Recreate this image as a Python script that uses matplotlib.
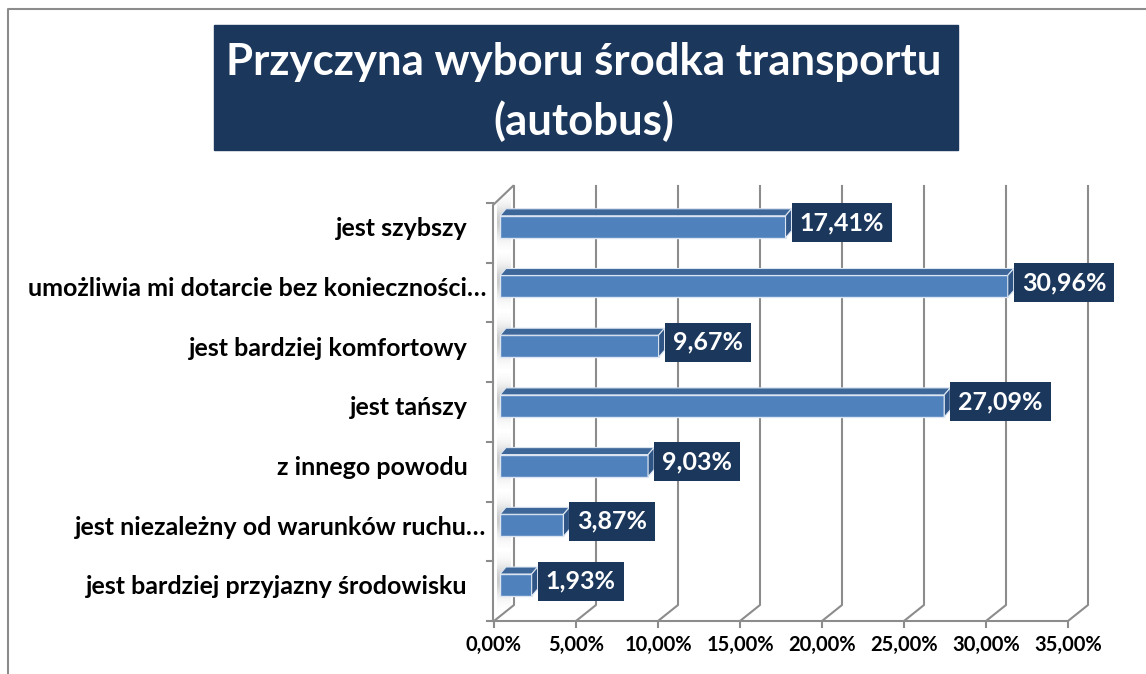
import numpy as np
import matplotlib.pyplot as plt
from matplotlib.patches import Polygon, Rectangle
from matplotlib.transforms import ScaledTranslation

plt.rcParams['font.family'] = ['Lato', 'DejaVu Sans']
plt.rcParams['font.weight'] = 'bold'

# Data (top to bottom)
categories = ['jest szybszy', 'umożliwia mi dotarcie bez konieczności…',
              'jest bardziej komfortowy', 'jest tańszy', 'z innego powodu',
              'jest niezależny od warunków ruchu…',
              'jest bardziej przyjazny środowisku']
values = [17.41, 30.96, 9.67, 27.09, 9.03, 3.87, 1.93]
value_labels = ['17,41%', '30,96%', '9,67%', '27,09%', '9,03%', '3,87%', '1,93%']
tick_values = [0, 5, 10, 15, 20, 25, 30, 35]
tick_labels = ['0,00%', '5,00%', '10,00%', '15,00%', '20,00%', '25,00%', '30,00%', '35,00%']
title = 'Przyczyna wyboru środka transportu\n(autobus)'

NAVY = '#1b375c'
BAR = '#4f81bd'
GRID = '#8c8c8c'

W, H = 1146, 674
fig = plt.figure(figsize=(W / 100, H / 100), dpi=100)

# pixel scale of the plot (bar front plane)
PXX = 16.4   # px per percent
PXY = 59.7   # px per category row
X0, Y0 = 500, 585


def dx(p):
    return p / PXX


def dy(p):
    return p / PXY


# background axes in pixel coords for frame and title
bg = fig.add_axes([0, 0, 1, 1])
bg.set_xlim(0, W)
bg.set_ylim(H, 0)
bg.axis('off')
bg.plot([8, 8, W + 5], [H + 5, 9, 9], color=GRID, lw=1.5, solid_capstyle='butt')
bg.add_patch(Rectangle((214, 25), 744, 125, color=NAVY))
bg.text(584, 92, title, color='white', fontsize=31.5, ha='center', va='center',
        linespacing=1.52)

# main axes
L, R, T, B = 494, 1100, 175, 621
ax = fig.add_axes([L / W, 1 - B / H, (R - L) / W, (B - T) / H])
ax.set_xlim((L - X0) / PXX, (R - X0) / PXX)
ax.set_ylim((Y0 - B) / PXY, (Y0 - T) / PXY)
ax.patch.set_visible(False)
for s in ax.spines.values():
    s.set_visible(False)

rows = np.arange(len(categories))[::-1]
y_front = (Y0 - 621) / PXY
y_back = y_front + dy(16)
y_top = (Y0 - 186) / PXY

# 3D gridlines: back wall + floor diagonal + tick
for t in tick_values:
    ax.plot([t + dx(-6), t + dx(-6), t + dx(14), t + dx(14)],
            [y_front - dy(6), y_front, y_back, y_top],
            color=GRID, lw=1.5, zorder=1, clip_on=False)
ax.plot([dx(-6), tick_values[-1] + dx(-6)], [y_front, y_front],
        color=GRID, lw=1.5, zorder=1, clip_on=False)

# left wall
ax.plot([dx(-7), dx(-7), dx(13)], [y_front, y_front + 7 - dy(2), y_top],
        color=GRID, lw=1.5, zorder=1, clip_on=False)
for k in range(len(categories) + 1):
    ax.plot([dx(-13), dx(-7)], [y_front + k, y_front + k], color=GRID, lw=1.5,
            zorder=1, clip_on=False)

# soft shadows on the left wall
h = 22 / PXY
grad = np.linspace(-1, 1, 60)
for r in rows:
    alpha = 0.45 * np.exp(-(grad / 0.55) ** 2)
    img = np.zeros((60, 2, 4))
    img[..., :3] = 0.55
    img[..., 3] = alpha[:, None]
    ax.imshow(img, extent=[dx(-3), dx(11), r - h / 2 - dy(12), r + h / 2 + dy(22)],
              aspect='auto', zorder=1.5, interpolation='bilinear')

# bars: front face + top + side
ax.barh(rows, values, height=h, color=BAR, edgecolor='#dce6f2', lw=1, zorder=3)
ox, oy = dx(6), dy(7)
for r, v, lab in zip(rows, values, value_labels):
    top = r + h / 2
    ax.add_patch(Polygon([(0, top), (v, top), (v + ox, top + oy), (ox, top + oy)],
                         closed=True, facecolor='#3d6699', edgecolor='#dce6f2',
                         lw=0.8, zorder=3))
    ax.add_patch(Polygon([(v, r - h / 2), (v, top), (v + ox, top + oy),
                          (v + ox, r - h / 2 + oy)],
                         closed=True, facecolor='#2f5586', edgecolor='#dce6f2',
                         lw=0.8, zorder=3))
    ax.text(v + dx(14), r + dy(4), lab, color='white', fontsize=18,
            ha='left', va='center', zorder=4,
            bbox=dict(boxstyle='square,pad=0.32', fc=NAVY, ec='none'))

# tick labels
ax.set_xticks(tick_values, tick_labels, fontsize=14.5)
ax.set_yticks(rows, categories, fontsize=18)
ax.tick_params(axis='x', length=0, pad=10)
ax.tick_params(axis='y', length=0, pad=19)
for lab in ax.get_xticklabels():
    lab.set_transform(lab.get_transform() + ScaledTranslation(-6 / 100, 0, fig.dpi_scale_trans))
for lab in ax.get_yticklabels():
    if lab.get_text().endswith('…'):
        lab.set_transform(lab.get_transform() + ScaledTranslation(19 / 100, 0, fig.dpi_scale_trans))

fig.savefig('out.png', dpi=100)
